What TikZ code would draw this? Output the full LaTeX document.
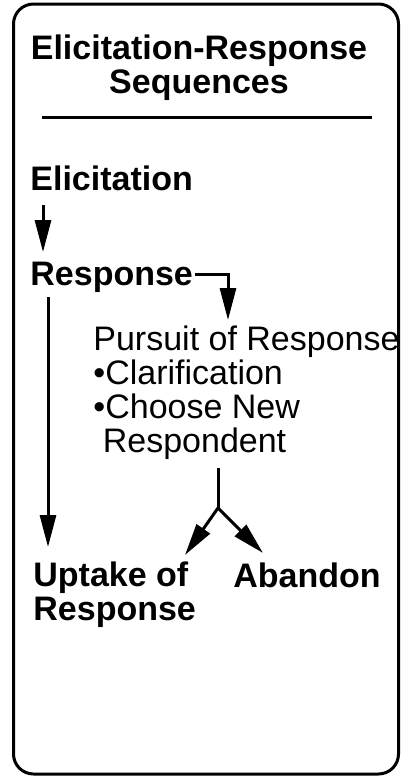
\documentclass[tikz,border=0pt]{standalone}
\usepackage{fontspec}
\setmainfont{Liberation Sans}
\usetikzlibrary{arrows.meta,calc}

\tikzset{
  heading/.style={font=\fontsize{17}{17}\selectfont\bfseries, inner sep=0pt},
  plain/.style={font=\fontsize{17}{17}\selectfont, inner sep=0pt, align=left},
  flow/.style={-{Triangle[length=16pt,width=8pt]}, line width=1.5pt},
}

\begin{document}
\begin{tikzpicture}[x=0.5pt,y=-0.5pt]
\useasboundingbox (0,0) rectangle (401,777);
\draw[line width=1.5pt, rounded corners=10pt] (13.5,4) rectangle (398.5,774);
% multi-line nodes: base = baseline of the last line
\node[heading, align=center, anchor=base] (title) at (199,93) {Elicitation-Response\\Sequences};
\draw[line width=1.5pt] (42,117) -- (372,117);
\node[heading, anchor=base west] (elic) at (30,190) {Elicitation};
\node[heading, anchor=base west] (resp) at (30,285) {Response};
\node[plain, anchor=base west] (pursuit) at (93,452) {Pursuit of Response\\•Clarification\\•Choose New\\\ Respondent};
\node[heading, align=left, anchor=base west] (uptake) at (33,620) {Uptake of\\Response};
\node[heading, anchor=base west] (abandon) at (233,587) {Abandon};
\coordinate (fork) at (218,508);
\draw[flow] ([shift={(13,15)}]elic.base west) -- ([shift={(13,-33)}]resp.base west);
\draw[flow] ([shift={(2,-11)}]resp.base east) -| ([shift={(135,-132)}]pursuit.base west);
\draw[flow] ([shift={(18,12)}]resp.base west) -- ([shift={(15,-73)}]uptake.base west);
\draw[line width=1.5pt] ([yshift=-4.5pt]fork |- pursuit.south) -- (fork);
\draw[flow] (fork) -- ([shift={(152,-65)}]uptake.base west);
\draw[flow] (fork) -- ([shift={(30,-34)}]abandon.base west);
\end{tikzpicture}
\end{document}
